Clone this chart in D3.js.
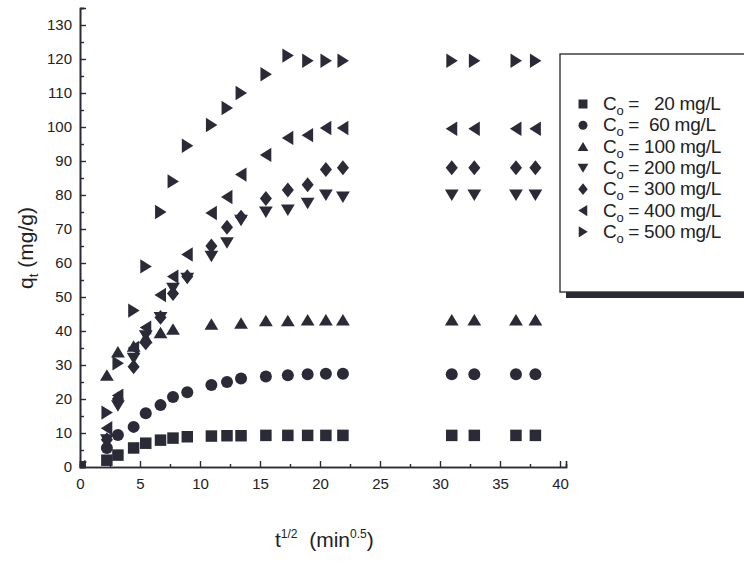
<!DOCTYPE html>
<html>
<head>
<meta charset="utf-8">
<script src="https://cdn.jsdelivr.net/npm/d3@7"></script>
<style>
  html, body { margin: 0; padding: 0; background: #fff; }
  svg { display: block; font-family: "Liberation Sans", Arial, sans-serif; }
</style>
</head>
<body>
<div id="chart"></div>
<script>
// t^1/2 values (min^0.5) shared by every series
const tHalf = [0, 2.24, 3.16, 4.47, 5.48, 6.71, 7.75, 8.94, 10.95, 12.25, 13.42,
               15.49, 17.32, 18.97, 20.49, 21.91, 30.98, 32.86, 36.33, 37.95];

// q_t (mg/g) per initial concentration; null = no point at that time
const q20  = [0, 2.0, 3.5, 5.6, 7.0, 7.9, 8.5, 8.9, 9.1, 9.2, 9.2, 9.3, 9.3, 9.3, 9.3, 9.3, 9.3, 9.3, 9.3, 9.3];
const q60  = [0, 5.6, 9.4, 11.8, 15.8, 18.2, 20.6, 22.0, 24.1, 25.0, 26.0, 26.6, 27.0, 27.3, 27.4, 27.4, 27.3, 27.3, 27.3, 27.3];
const q100 = [0, 27.0, 33.8, 35.5, 38.0, 39.5, 40.5, null, 42.0, null, 42.3, 43.0, 43.0, 43.2, 43.2, 43.2, 43.2, 43.2, 43.2, 43.2];
const q200 = [0, 8.0, 18.0, 32.0, 38.6, 44.0, 52.6, 55.5, 62.0, 66.0, 72.6, 75.0, 75.6, 77.6, 80.0, 79.4, 80.0, 80.0, 80.0, 80.0];
const q300 = [0, 8.0, 20.0, 29.5, 36.5, 44.0, 51.0, 56.0, 65.0, 70.5, 73.5, 79.0, 81.5, 83.0, 87.5, 88.0, 88.0, 88.0, 88.0, 88.0];
const q400 = [0, 11.4, 21.0, 35.0, 41.0, 50.6, 56.0, 62.5, 74.7, 79.4, 86.0, 91.8, 96.8, 97.6, 99.7, 99.7, 99.5, 99.5, 99.5, 99.5];
const q500 = [0, 16.0, 30.5, 46.0, 59.0, 75.0, 84.0, 94.5, 100.6, 105.6, 110.0, 115.5, 121.0, 119.5, 119.5, 119.5, 119.5, 119.5, 119.5, 119.5];

const concLabels = ["  20 mg/L", " 60 mg/L", "100 mg/L", "200 mg/L", "300 mg/L", "400 mg/L", "500 mg/L"];
const shapes     = ["square", "circle", "up", "down", "diamond", "left", "right"];
const seriesVals = [q20, q60, q100, q200, q300, q400, q500];

const xTicks = d3.range(0, 41, 5);
const yTicks = d3.range(0, 131, 10);

const W = 744, H = 565;
const ink = "#2b2b38";

// marker outlines, s = nominal size in px
function marker(shape, s) {
  const h = s / 2;
  switch (shape) {
    case "square":  return `M${-h},${-h}H${h}V${h}H${-h}Z`;
    case "circle":  return d3.arc()({innerRadius: 0, outerRadius: h, startAngle: 0, endAngle: 2 * Math.PI});
    case "up":      return `M0,${-h * 1.05}L${h * 1.2},${h * 0.95}L${-h * 1.2},${h * 0.95}Z`;
    case "down":    return `M0,${h * 1.05}L${h * 1.2},${-h * 0.95}L${-h * 1.2},${-h * 0.95}Z`;
    case "diamond": return `M0,${-h * 1.3}L${h * 1.05},0L0,${h * 1.3}L${-h * 1.05},0Z`;
    case "left":    return `M${-h * 1.05},0L${h * 0.95},${-h * 1.25}L${h * 0.95},${h * 1.25}Z`;
    case "right":   return `M${h * 1.05},0L${-h * 0.95},${-h * 1.25}L${-h * 0.95},${h * 1.25}Z`;
  }
}

const svg = d3.select("#chart").append("svg")
  .attr("width", W).attr("height", H);

const x = d3.scaleLinear().domain([0, 40.5]).range([80, 566]);
const y = d3.scaleLinear().domain([0, 135]).range([467, 8]);

// ---- clip so markers at the origin are cut by the axes ----
svg.append("clipPath").attr("id", "plot")
  .append("rect")
  .attr("x", x(0)).attr("y", 0)
  .attr("width", x(40.5) - x(0)).attr("height", y(0));

// ---- data markers ----
const gData = svg.append("g").attr("clip-path", "url(#plot)");
seriesVals.forEach((vals, si) => {
  const pts = tHalf.map((t, i) => ({t, q: vals[i]})).filter(d => d.q != null);
  gData.selectAll(null)
    .data(pts)
    .join("path")
    .attr("transform", d => `translate(${x(d.t)},${y(d.q)})`)
    .attr("d", marker(shapes[si], si === 1 ? 12 : 11.5))
    .attr("fill", ink);
});

// ---- axes (ticks pointing inward) ----
svg.append("g").attr("transform", `translate(0,${y(0)})`)
  .call(d3.axisBottom(x).tickValues(xTicks).tickSize(-6).tickPadding(11).tickFormat(d3.format("d")));
svg.append("g").attr("transform", `translate(0,${y(0)})`)
  .call(d3.axisBottom(x).tickValues(d3.range(2.5, 40, 5)).tickSize(-3).tickFormat(""));

svg.append("g").attr("transform", `translate(${x(0)},0)`)
  .call(d3.axisLeft(y).tickValues(yTicks).tickSize(-6).tickPadding(8).tickFormat(d3.format("d")));
svg.append("g").attr("transform", `translate(${x(0)},0)`)
  .call(d3.axisLeft(y).tickValues(d3.range(5, 136, 10)).tickSize(-4).tickFormat(""));

svg.selectAll(".domain").attr("stroke", ink).attr("stroke-width", 1.6);
svg.selectAll(".tick line").attr("stroke", ink).attr("stroke-width", 1.4);
svg.selectAll(".tick text").attr("font-size", 15).attr("fill", "#222")
  .attr("font-family", "'Liberation Sans', Arial, sans-serif");

// ---- axis titles ----
const yTitle = svg.append("text")
  .attr("transform", `translate(33,248) rotate(-90)`)
  .attr("text-anchor", "middle")
  .attr("font-size", 21).attr("fill", "#222");
yTitle.append("tspan").text("q");
yTitle.append("tspan").attr("font-size", 13).attr("dy", 5).text("t");
yTitle.append("tspan").attr("dy", -5).text(" (mg/g)");

const xTitle = svg.append("text")
  .attr("x", 275).attr("y", 547)
  .attr("font-size", 21).attr("fill", "#222")
  .attr("xml:space", "preserve");
xTitle.append("tspan").text("t");
xTitle.append("tspan").attr("font-size", 12).attr("dy", -9).text("1/2");
xTitle.append("tspan").attr("dy", 9).text("  (min");
xTitle.append("tspan").attr("font-size", 12).attr("dy", -9).text("0.5");
xTitle.append("tspan").attr("dy", 9).text(")");

// ---- legend box with drop shadow ----
const lg = svg.append("g");
lg.append("rect")
  .attr("x", 566).attr("y", 60).attr("width", 200).attr("height", 238)
  .attr("fill", ink);
lg.append("rect")
  .attr("x", 560).attr("y", 54).attr("width", 200).attr("height", 238)
  .attr("fill", "#fff").attr("stroke", "#333").attr("stroke-width", 1.4);

concLabels.forEach((lab, i) => {
  const ly = 104 + i * 21.3;
  lg.append("path")
    .attr("transform", `translate(583,${ly})`)
    .attr("d", marker(shapes[i], 9))
    .attr("fill", ink);
  const t = lg.append("text")
    .attr("x", 603).attr("y", ly + 6)
    .attr("font-size", 19).attr("fill", "#222")
    .attr("letter-spacing", -0.3)
    .attr("xml:space", "preserve");
  t.append("tspan").text("C");
  t.append("tspan").attr("font-size", 13).attr("dy", 5).text("o");
  t.append("tspan").attr("dy", -5).text(" = " + lab);
});
</script>
</body>
</html>
